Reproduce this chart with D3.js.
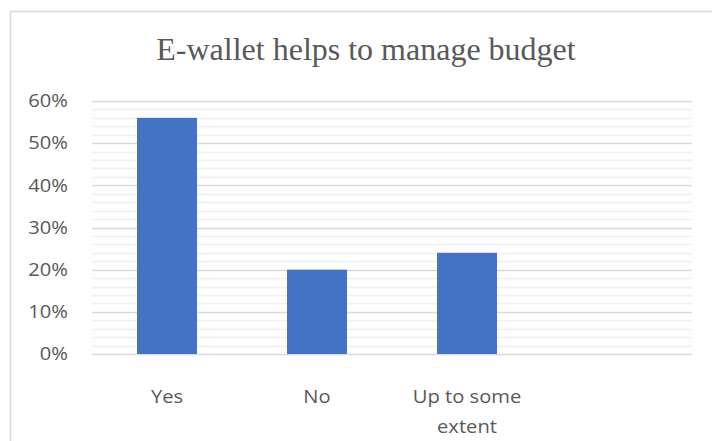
<!DOCTYPE html>
<html>
<head>
<meta charset="utf-8">
<script src="https://cdn.jsdelivr.net/npm/d3@7"></script>
<style>
  html, body { margin: 0; padding: 0; background: #fff; }
  svg { display: block; }
</style>
</head>
<body>
<svg id="chart" width="712" height="441"></svg>
<script>
// Survey responses: share of respondents
const categories = ["Yes", "No", "Up to some extent", ""];
const values = [0.56, 0.20, 0.24, null];
const majorTicks = [0, 0.1, 0.2, 0.3, 0.4, 0.5, 0.6];
const minorTicks = d3.range(0, 0.6001, 0.02);
const titleText = "E-wallet helps to manage budget";

const svg = d3.select("#chart");
const W = 712, H = 441;
const margin = { left: 92, right: 20, top: 101, bottom: 87 };
const labelFont = "'Open Sans', 'Liberation Sans', sans-serif";
const labelSize = "18px";
const stretch = 1.12;

// Chart frame (extends beyond the canvas on right and bottom)
svg.append("rect")
  .attr("x", 10.5).attr("y", 11.5)
  .attr("width", 720).attr("height", 450)
  .attr("fill", "#fff")
  .attr("stroke", "#d9d9d9")
  .attr("stroke-width", 1.5);

const x = d3.scaleBand()
  .domain(categories.map((c, i) => i))
  .range([margin.left, W - margin.right])
  .paddingInner(0.6)
  .paddingOuter(0.3);

const y = d3.scaleLinear()
  .domain([0, 0.6])
  .range([H - margin.bottom, margin.top]);

// Minor gridlines
svg.append("g")
  .selectAll("line")
  .data(minorTicks.filter(t => !majorTicks.some(m => Math.abs(m - t) < 1e-9)))
  .join("line")
  .attr("x1", margin.left).attr("x2", W - margin.right)
  .attr("y1", d => Math.round(y(d)) + 0.5).attr("y2", d => Math.round(y(d)) + 0.5)
  .attr("stroke", "#f0f0f0")
  .attr("stroke-width", 1.5);

// Major gridlines
svg.append("g")
  .selectAll("line")
  .data(majorTicks)
  .join("line")
  .attr("x1", margin.left).attr("x2", W - margin.right)
  .attr("y1", d => Math.round(y(d)) + 0.5).attr("y2", d => Math.round(y(d)) + 0.5)
  .attr("stroke", "#d9d9d9")
  .attr("stroke-width", 1.5);

// Bars
svg.append("g")
  .selectAll("rect")
  .data(values.map((v, i) => ({ i, v })).filter(d => d.v != null))
  .join("rect")
  .attr("x", d => x(d.i))
  .attr("width", x.bandwidth())
  .attr("y", d => y(d.v))
  .attr("height", d => y(0) - y(d.v))
  .attr("fill", "#4472c4");

// Y axis labels
const yAxis = d3.axisLeft(y)
  .tickValues(majorTicks)
  .tickFormat(d3.format(".0%"))
  .tickSize(0)
  .tickPadding(0);
const yg = svg.append("g")
  .attr("transform", `translate(${margin.left - 24},0)`)
  .call(yAxis);
yg.select(".domain").remove();
yg.selectAll("text")
  .attr("x", 0)
  .attr("transform", `scale(${stretch},1)`)
  .attr("fill", "#595959")
  .style("font-family", labelFont)
  .style("font-size", labelSize);

// X axis labels (wrapped)
const wrapLines = { "Up to some extent": ["Up to some", "extent"] };
const xg = svg.append("g");
categories.forEach((c, i) => {
  if (!c) return;
  const lines = wrapLines[c] || [c];
  const t = xg.append("g")
    .attr("transform", `translate(${x(i) + x.bandwidth() / 2},403) scale(${stretch},1)`)
    .append("text")
    .attr("text-anchor", "middle")
    .attr("fill", "#595959")
    .style("font-family", labelFont)
    .style("font-size", labelSize);
  lines.forEach((l, k) => {
    t.append("tspan")
      .attr("x", 0)
      .attr("y", k * 30)
      .text(l);
  });
});

// Title
svg.append("text")
  .attr("x", 366)
  .attr("y", 60)
  .attr("text-anchor", "middle")
  .attr("fill", "#595959")
  .style("font-family", "'Liberation Serif', 'Times New Roman', serif")
  .style("font-size", "32px")
  .text(titleText);
</script>
</body>
</html>
